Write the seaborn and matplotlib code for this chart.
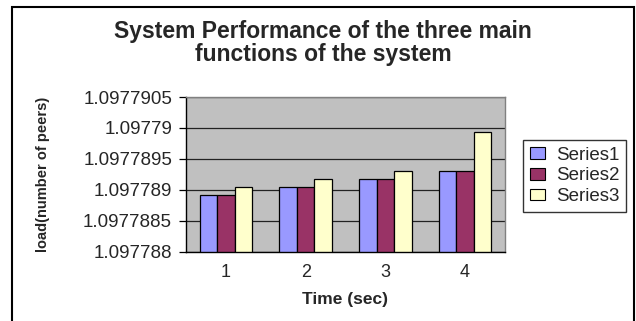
import numpy as np
import pandas as pd
import seaborn as sns
import matplotlib.pyplot as plt
from matplotlib.patches import Rectangle

# data
times = ["1", "2", "3", "4"]
series_names = ["Series1", "Series2", "Series3"]
series1 = [1.09778892, 1.097789045, 1.09778917, 1.0977893]
series2 = [1.09778892, 1.097789045, 1.09778917, 1.0977893]
series3 = [1.097789045, 1.09778917, 1.0977893, 1.09778993]
y_ticks = [1.097788, 1.0977885, 1.097789, 1.0977895, 1.09779, 1.0977905]
y_tick_labels = ["1.097788", "1.0977885", "1.097789", "1.0977895", "1.09779", "1.0977905"]
colors = ["#9999FF", "#993366", "#FFFFCC"]

df = pd.DataFrame({
    "time": times * 3,
    "series": np.repeat(series_names, len(times)),
    "load": series1 + series2 + series3,
})

sns.set_style("white")
plt.rcParams["font.family"] = ["Liberation Sans", "DejaVu Sans"]

fig = plt.figure(figsize=(6.36, 3.21), dpi=100)
ax = fig.add_axes([186 / 636, 1 - 251.5 / 321, 319 / 636, 154.5 / 321])
ax.set_facecolor("#C0C0C0")

sns.barplot(data=df, x="time", y="load", hue="series", palette=colors,
            saturation=1, width=0.66, edgecolor="black", linewidth=0.9,
            ax=ax, legend=True)

ax.set_ylim(y_ticks[0], y_ticks[-1])
ax.set_yticks(y_ticks)
ax.set_yticklabels(y_tick_labels, fontsize=13.5)
ax.yaxis.grid(True, color="#222222", linewidth=0.9)
ax.set_axisbelow(True)

ax.set_xlim(-0.5, 3.5)
ax.set_xticks(range(4))
ax.set_xticklabels(times, fontsize=13)
ax.set_xticks(np.arange(-0.5, 4, 1), minor=True)
ax.tick_params(axis="x", which="major", length=0, pad=9)
ax.tick_params(axis="x", which="minor", direction="out", length=5, width=0.9, color="black")
ax.tick_params(axis="y", direction="out", length=5, width=0.9, color="black", left=True, pad=5)

for side in ["top", "right"]:
    ax.spines[side].set_color("#808080")
    ax.spines[side].set_linewidth(1)
for side in ["left", "bottom"]:
    ax.spines[side].set_color("black")
    ax.spines[side].set_linewidth(1)

ax.set_xlabel("Time (sec)", fontsize=12.5, fontweight="bold", labelpad=8)
ax.set_ylabel("load(number of peers)", fontsize=10.5, fontweight="bold", labelpad=24)

fig.text(323 / 636, 1 - 43 / 321,
         "System Performance of the three main\nfunctions of the system",
         ha="center", va="center", fontsize=16.5, fontweight="bold", linespacing=1.0)

leg = ax.legend(loc="upper left", bbox_to_anchor=(523 / 636, 1 - 140 / 321),
                bbox_transform=fig.transFigure, fontsize=13.5, frameon=True,
                fancybox=False, edgecolor="black", handlelength=0.8,
                handleheight=0.6, handletextpad=0.6, borderpad=0.35,
                labelspacing=0.2, borderaxespad=0)
leg.get_frame().set_linewidth(1)
for h in leg.legend_handles:
    h.set_edgecolor("black")
    h.set_linewidth(0.8)

fig.patches.append(Rectangle((12 / 636, -0.05), 622 / 636, 1.05 - 7 / 321,
                             transform=fig.transFigure, fill=False,
                             edgecolor="black", linewidth=1.5))

fig.savefig("out.png", dpi=100)
